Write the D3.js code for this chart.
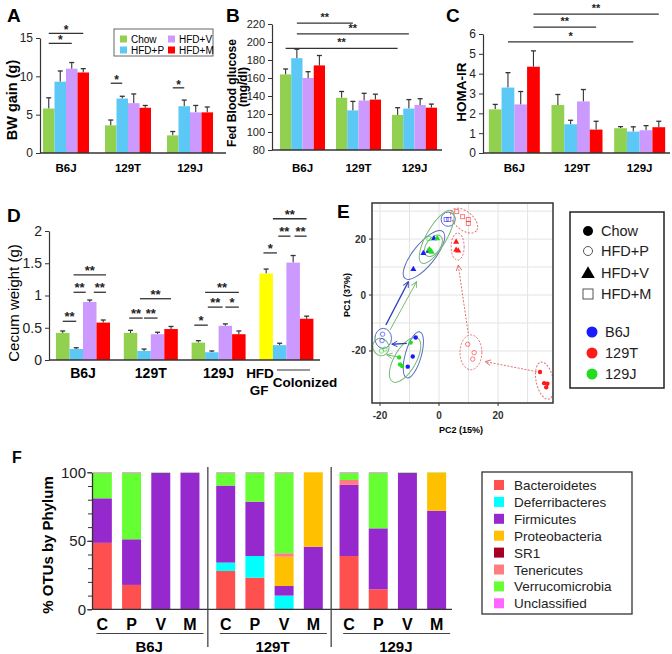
<!DOCTYPE html>
<html><head><meta charset="utf-8">
<script src="https://cdn.jsdelivr.net/npm/d3@7"></script>
<style>body{margin:0;background:#fff;} svg{display:block;font-family:"Liberation Sans",Arial,Helvetica,sans-serif;}</style>
</head><body><svg id="c" width="672" height="654"></svg>
<script>
// ---------------- DATA ----------------
const strains = ["B6J","129T","129J"];
const diets = ["Chow","HFD+P","HFD+V","HFD+M"];
const dietColors = ["#92D050","#5BC8F5","#CC99FF","#FF0000"];
const gfColor = "#FFFF00";

const bwTicks = [0,5,10,15];
const bwMean = [[5.8,9.3,11.0,10.5],[3.6,7.1,6.5,5.9],[2.3,6.1,5.3,5.3]];
const bwErr  = [[1.4,1.4,0.8,0.5],[0.7,0.3,1.2,0.3],[0.5,0.8,0.9,0.7]];
const bwSig  = [[0,0.5,0,3.5,15.6,"*"],[0,0.5,0,2.5,14.3,"*"],[1,0.5,1,1.5,9.1,"*"],[2,0.5,2,1.5,8.5,"*"]];

const gluTicks = [80,100,120,140,160,180,200,220];
const gluMean = [[164,182,160,174],[138,124,135,136],[119,126,130,127]];
const gluErr  = [[6,10,7,11],[7,10,8,6],[8,10,7,4]];
const gluSig  = [[0,1.5,1,1.5,221,"**"],[0,1.5,2,1.5,209,"**"],[0,0.5,2,0.5,193,"**"]];

const homaTicks = [0,1,2,3,4,5,6];
const homaMean = [[2.2,3.3,2.45,4.35],[2.42,1.45,2.6,1.18],[1.25,1.08,1.15,1.3]];
const homaErr  = [[0.25,0.75,0.65,0.8],[0.53,0.2,0.6,0.42],[0.08,0.24,0.23,0.3]];
const homaSig  = [[0,3.5,2,3.5,7.0,"**"],[0,3.5,1,3.5,6.35,"**"],[0,1.5,2,1.5,5.6,"*"]];

const cecumGroups = ["B6J","129T","129J","GF"];
const cecumTicks = [0,0.5,1,1.5,2];
const cecumMean = [[0.42,0.17,0.90,0.58],[0.42,0.14,0.40,0.48],[0.27,0.12,0.53,0.40],[1.34,0.23,1.51,0.64]];
const cecumErr  = [[0.03,0.02,0.03,0.04],[0.04,0.03,0.03,0.04],[0.03,0.02,0.03,0.05],[0.07,0.03,0.11,0.04]];
const cecumSig = [
  [0,0.5,0,1.5,0.60,"**"],[0,1.3,0,2.2,1.05,"**"],[0,2.8,0,3.7,1.05,"**"],[0,1.3,0,3.7,1.32,"**"],
  [1,0.4,1,1.4,0.65,"**"],[1,1.5,1,2.5,0.65,"**"],[1,1.2,1,3.5,0.95,"**"],
  [2,0.2,2,1.2,0.54,"*"],[2,1.2,2,2.3,0.82,"**"],[2,2.5,2,3.5,0.82,"*"],[2,1.0,2,3.5,1.05,"**"],
  [3,0.3,3,1.3,1.66,"*"],[3,1.4,3,2.3,1.92,"**"],[3,2.6,3,3.5,1.92,"**"],[3,1.0,3,3.5,2.19,"**"]
];

// PCA (PC2 on x, PC1 on y)
const pcaTicks = [-20,0,20];
const pcaGrid = [-20,-10,0,10,20,30];
const strainColors = ["#1A1AFF","#FF1A1A","#22DD22"];
const pcaPoints = [
  ["B6J","Chow",-7.9,-15.2],["B6J","Chow",-8.9,-22.0],["B6J","Chow",-10.6,-25.6],
  ["B6J","HFD+P",-19.1,-14.0],["B6J","HFD+P",-19.3,-16.3],
  ["B6J","HFD+V",-8.7,9.2],["B6J","HFD+V",-5.3,14.9],["B6J","HFD+V",-3.6,15.7],["B6J","HFD+V",-1.7,20.2],
  ["B6J","HFD+M",2.4,27.0],["B6J","HFD+M",3.3,27.0],
  ["129T","Chow",34.2,-27.5],["129T","Chow",35.6,-31.5],["129T","Chow",36.7,-31.7],["129T","Chow",36.3,-33.0],
  ["129T","HFD+P",9.7,-17.6],["129T","HFD+P",11.9,-20.6],["129T","HFD+P",11.4,-22.9],
  ["129T","HFD+V",5.8,19.0],["129T","HFD+V",5.8,16.1],["129T","HFD+V",6.5,15.8],
  ["129T","HFD+M",6.0,29.8],["129T","HFD+M",8.0,28.0],["129T","HFD+M",9.9,27.0],["129T","HFD+M",9.9,25.6],
  ["129J","Chow",-9.6,-17.0],["129J","Chow",-13.5,-22.3],["129J","Chow",-13.2,-24.8],["129J","Chow",-12.5,-25.4],
  ["129J","HFD+P",-19.5,-20.0],["129J","HFD+P",-18.3,-19.3],
  ["129J","HFD+V",-3.3,16.3],["129J","HFD+V",-2.8,15.7],["129J","HFD+V",-2.5,15.4],["129J","HFD+V",-0.6,20.2],
  ["129J","HFD+M",-3.4,20.2]
];
// ellipses: strain, cx, cy, rx, ry (data units), rotation (deg)
const pcaEllipses = [
  ["B6J",-5.1,14.3,10.2,3.7,-51],["B6J",3.1,27.1,2.4,2.4,0],["B6J",-18.9,-15.5,2.8,3.4,0],["B6J",-8.7,-21.4,8.1,2.7,-74],
  ["129J",-0.8,20.8,10.2,3.4,-60],["129J",-1.9,17.6,4.1,2.4,-55],["129J",-19.7,-18.6,2.7,3.0,-20],["129J",-11.5,-23.2,8.5,3.7,-60],
  ["129T",8.5,26.6,5.4,3.1,40],["129T",6.3,17.3,2.2,4.6,0],["129T",10.8,-20.5,3.7,5.9,0],["129T",35.8,-30.6,2.9,6.4,-12]
];
const pcaArrows = [
  ["B6J",-18.0,-10.7,-10.4,4.75],["129J",-16.6,-12.5,-7.6,4.75],
  ["B6J",-10.9,-17.3,-16.0,-17.6],["129J",-13.9,-22.1,-17.7,-21.4],
  ["129T",9.9,-13.7,6.5,10.7],["129T",33.1,-27.4,15.6,-23.8]
];

// Phylum composition
const samples = ["C","P","V","M"];
const phyla = ["Bacteroidetes","Deferribacteres","Firmicutes","Proteobacteria","SR1","Tenericutes","Verrucomicrobia","Unclassified"];
const phylaColors = ["#FF5050","#00FFFF","#9629CD","#FFC000","#A50021","#FF7C80","#66FF33","#FF66FF"];
const otuTicks = [0,50,100];
const bacteroidetes   = [48.5,17.8,0,0,   28,23.1,0,0,     38.9,14.6,0,0];
const deferribacteres = [0,0,0,0,         6.1,15.8,10,0,   0,0,0,0];
const firmicutes      = [32.5,33.3,99.5,99.7, 56.2,39.7,7,45.7, 51.9,44.5,99.5,72];
const proteobacteria  = [0,0,0,0,         0,0,21.4,54.3,   0,0,0,27.8];
const sr1             = [0,0,0,0,         0,0,0,0,         0,0,0,0];
const tenericutes     = [0,0,0,0,         0,0,2.5,0,       3.6,0,0,0];
const verrucomicrobia = [18.5,48.4,0.4,0.2, 9.2,20.9,58.6,0, 5.1,40.4,0.4,0.2];
const unclassified    = [0.5,0.5,0.1,0.1, 0.5,0.5,0.5,0,   0.5,0.5,0.1,0];

// ---------------- DRAW ----------------
const svg = d3.select("#c");
const AX = "#333";

function panelLetter(t,x,y,fs){
  svg.append("text").attr("x",x).attr("y",y).attr("font-size",fs||19).attr("font-weight","bold").text(t);
}
function vTitle(t,x,y,fs,bold,len){
  const el=svg.append("text").attr("transform",`translate(${x},${y}) rotate(-90)`).attr("text-anchor","middle")
    .attr("font-size",fs).attr("font-weight",bold?"bold":"normal").text(t);
  if(len) el.attr("textLength",len).attr("lengthAdjust","spacingAndGlyphs");
}

function barPanel(o){
  const g = svg.append("g");
  const y = d3.scaleLinear().domain(o.yDomain).range([o.yBottom,o.yTop]);
  const xg = d3.scaleBand().domain(o.groups).range(o.groupRange);
  const step = xg.bandwidth();
  const xd = d3.scaleBand().domain(diets).range([(step-4*o.barW)/2,(step+4*o.barW)/2]);
  const bw = xd.bandwidth();
  o.groups.forEach((grp,gi)=>{
    diets.forEach((dt,di)=>{
      const v=o.means[gi][di], e=o.errs[gi][di];
      const x=xg(grp)+xd(dt), cx=x+bw/2;
      g.append("line").attr("x1",cx).attr("x2",cx).attr("y1",y(v)).attr("y2",y(v+e)).attr("stroke","#333").attr("stroke-width",1.1);
      g.append("line").attr("x1",cx-2.5).attr("x2",cx+2.5).attr("y1",y(v+e)).attr("y2",y(v+e)).attr("stroke","#333").attr("stroke-width",1.3);
      g.append("rect").attr("x",x).attr("y",y(v)).attr("width",bw).attr("height",y(o.yDomain[0])-y(v)).attr("fill",o.color(gi,di));
    });
    if(o.labels!==false){
      g.append("text").attr("x",xg(grp)+step/2).attr("y",o.labelY).attr("text-anchor","middle")
        .attr("font-size",o.labelFs).attr("font-weight","bold").text(grp);
    }
  });
  const ax = d3.axisLeft(y).tickValues(o.ticks).tickSize(4).tickSizeOuter(0).tickPadding(3).tickFormat(o.fmt||(d=>d));
  const ag = g.append("g").attr("transform",`translate(${o.axisX},0)`).call(ax);
  ag.select(".domain").attr("stroke",AX).attr("stroke-width",1.2);
  ag.selectAll(".tick line").attr("stroke",AX);
  ag.selectAll("text").attr("font-size",o.tickFs).attr("fill","#222").attr("font-family","Liberation Sans, Arial, sans-serif");
  g.append("line").attr("x1",o.axisX).attr("x2",o.axisEnd).attr("y1",y(o.yDomain[0])).attr("y2",y(o.yDomain[0])).attr("stroke",AX).attr("stroke-width",1.3);
  const left = gi=> xg(o.groups[gi])+xd.range()[0];
  o.sig.forEach(s=>{
    const x1=left(s[0])+s[1]*bw, x2=left(s[2])+s[3]*bw, yy=y(s[4]);
    g.append("line").attr("x1",x1).attr("x2",x2).attr("y1",yy).attr("y2",yy).attr("stroke","#333").attr("stroke-width",1.3);
    g.append("text").attr("x",(x1+x2)/2).attr("y",yy+o.starDy).attr("text-anchor","middle")
      .attr("font-size",o.starFs).attr("font-weight","bold").attr("fill","#222").text(s[5]);
  });
  return {y,xg,xd};
}

// ---- A ----
panelLetter("A",7,22);
barPanel({groups:strains,means:bwMean,errs:bwErr,color:(g,d)=>dietColors[d],
  yDomain:[0,15],yBottom:153,yTop:38,ticks:bwTicks,groupRange:[35,221],barW:11.5,
  axisX:40,axisEnd:226,labelY:172,labelFs:11.5,tickFs:12,sig:bwSig,starDy:1,starFs:12});
vTitle("BW gain (g)",17,100,14.5,true);
// legend A
const lgA = svg.append("g");
lgA.append("rect").attr("x",114).attr("y",29).attr("width",99).attr("height",27).attr("fill","#fff").attr("stroke","#666").attr("stroke-width",1);
const lgPos=[[120,39],[120,50],[168,39],[168,50]];
diets.forEach((d,i)=>{
  const [cx,cy]=lgPos[i];
  lgA.append("rect").attr("x",cx).attr("y",cy-3.5).attr("width",7).attr("height",7).attr("fill",dietColors[i]);
  lgA.append("text").attr("x",cx+11).attr("y",cy+3.6).attr("font-size",10).text(d);
});

// ---- B ----
panelLetter("B",226,22);
barPanel({groups:strains,means:gluMean,errs:gluErr,color:(g,d)=>dietColors[d],
  yDomain:[80,220],yBottom:150,yTop:24,ticks:gluTicks,groupRange:[274.5,442.5],barW:11.25,
  axisX:272,axisEnd:442,labelY:172,labelFs:11.5,tickFs:11,sig:gluSig,starDy:-2,starFs:11});
vTitle("Fed Blood glucose",236,93,12.5,true,108);
vTitle("(mg/dl)",247,87,12.5,true,40);

// ---- C ----
panelLetter("C",446,22);
barPanel({groups:strains,means:homaMean,errs:homaErr,color:(g,d)=>dietColors[d],
  yDomain:[0,6],yBottom:153,yTop:34,ticks:homaTicks,groupRange:[483,671],barW:12.75,
  axisX:483,axisEnd:670,labelY:172,labelFs:11.5,tickFs:12,sig:homaSig,starDy:-2,starFs:11});
vTitle("HOMA-IR",466,92,13.5,true);

// ---- D ----
panelLetter("D",7,222);
barPanel({groups:cecumGroups,means:cecumMean,errs:cecumErr,color:(g,d)=>(g===3&&d===0)?gfColor:dietColors[d],
  yDomain:[0,2],yBottom:360,yTop:231,ticks:cecumTicks,groupRange:[49.1,320.3],barW:13.5,
  axisX:49,axisEnd:320,labels:false,tickFs:14,sig:cecumSig,starDy:0,starFs:13,fmt:d=>d});
{
  const xs=[83,150.8,218.6];
  strains.forEach((s,i)=>svg.append("text").attr("x",xs[i]).attr("y",378).attr("text-anchor","middle").attr("font-size",14).attr("font-weight","bold").text(s));
  svg.append("text").attr("x",260).attr("y",378).attr("text-anchor","middle").attr("font-size",13.5).attr("font-weight","bold").text("HFD");
  svg.append("text").attr("x",259).attr("y",395).attr("text-anchor","middle").attr("font-size",13.5).attr("font-weight","bold").text("GF");
  svg.append("text").attr("x",305).attr("y",387).attr("text-anchor","middle").attr("font-size",13.5).attr("font-weight","bold").text("Colonized");
  svg.append("line").attr("x1",277).attr("x2",310).attr("y1",370).attr("y2",370).attr("stroke","#333").attr("stroke-width",1.2);
  vTitle("Cecum weight (g)",19,303,15,false);
}

// ---- E ----
panelLetter("E",337,218);
{
  const ex=d3.scaleLinear().domain([-22.7,38.6]).range([372,553]);
  const ey=d3.scaleLinear().domain([-38.6,32.9]).range([403,203]);
  const g=svg.append("g");
  g.append("clipPath").attr("id","eclip").append("rect").attr("x",372).attr("y",203).attr("width",181).attr("height",200);
  pcaGrid.forEach(v=>{
    g.append("line").attr("x1",ex(v)).attr("x2",ex(v)).attr("y1",203).attr("y2",403).attr("stroke","#E3E3E3").attr("stroke-width",1);
    if(v<=30) g.append("line").attr("x1",372).attr("x2",553).attr("y1",ey(v)).attr("y2",ey(v)).attr("stroke","#E3E3E3").attr("stroke-width",1);
  });
  const defs=svg.append("defs");
  const arrCol={"B6J":"#3040C0","129T":"#E07070","129J":"#78B878"};
  strains.forEach((s,i)=>{
    defs.append("marker").attr("id","arr"+i).attr("viewBox","0 0 10 10").attr("refX",9).attr("refY",5)
      .attr("markerWidth",7).attr("markerHeight",7).attr("markerUnits","userSpaceOnUse").attr("orient","auto")
      .append("path").attr("d","M1,1 L9,5 L1,9").attr("fill","none").attr("stroke",arrCol[s]).attr("stroke-width",1.3);
  });
  const cg=g.append("g").attr("clip-path","url(#eclip)");
  const ellCol={"B6J":"#5A6FC0","129T":"#E07070","129J":"#78B878"};
  pcaEllipses.forEach(e=>{
    cg.append("ellipse").attr("transform",`translate(${ex(e[1])},${ey(e[2])}) rotate(${e[5]})`)
      .attr("rx",ex(e[3])-ex(0)).attr("ry",ex(e[4])-ex(0)).attr("fill","none").attr("stroke",ellCol[e[0]])
      .attr("stroke-width",1).attr("stroke-dasharray",e[0]==="129T"?"2,1.5":null);
  });
  pcaArrows.forEach(a=>{
    const si=strains.indexOf(a[0]);
    cg.append("line").attr("x1",ex(a[1])).attr("y1",ey(a[2])).attr("x2",ex(a[3])).attr("y2",ey(a[4]))
      .attr("stroke",arrCol[a[0]]).attr("stroke-width",a[0]==="B6J"?1.4:1).attr("stroke-dasharray",a[0]==="129T"?"2,1.5":null)
      .attr("marker-end",`url(#arr${si})`);
  });
  pcaPoints.forEach(p=>{
    const c=strainColors[strains.indexOf(p[0])], x=ex(p[2]), y=ey(p[3]);
    if(p[1]==="Chow") cg.append("circle").attr("cx",x).attr("cy",y).attr("r",2.2).attr("fill",c);
    else if(p[1]==="HFD+P") cg.append("circle").attr("cx",x).attr("cy",y).attr("r",2.2).attr("fill","none").attr("stroke",c).attr("stroke-width",0.8).attr("stroke-opacity",0.7);
    else if(p[1]==="HFD+V") cg.append("path").attr("transform",`translate(${x},${y})`).attr("d",d3.symbol(d3.symbolTriangle,16)()).attr("fill",c);
    else cg.append("rect").attr("x",x-2).attr("y",y-2).attr("width",4).attr("height",4).attr("fill","none").attr("stroke",c).attr("stroke-width",0.8).attr("stroke-opacity",0.7);
  });
  g.append("rect").attr("x",372).attr("y",203).attr("width",181).attr("height",200).attr("fill","none").attr("stroke","#333").attr("stroke-width",1.5);
  pcaTicks.forEach(v=>{
    g.append("line").attr("x1",ex(v)).attr("x2",ex(v)).attr("y1",403).attr("y2",406).attr("stroke","#333");
    g.append("text").attr("x",ex(v)).attr("y",419).attr("text-anchor","middle").attr("font-size",10).attr("font-weight","bold").attr("fill","#333").text(v);
    g.append("line").attr("x1",369).attr("x2",372).attr("y1",ey(v)).attr("y2",ey(v)).attr("stroke","#333");
    g.append("text").attr("x",366).attr("y",ey(v)+3.5).attr("text-anchor","end").attr("font-size",10).attr("font-weight","bold").attr("fill","#333").text(v);
  });
  g.append("text").attr("x",461).attr("y",433).attr("text-anchor","middle").attr("font-size",9).attr("font-weight","bold").text("PC2 (15%)");
  g.append("text").attr("transform","translate(350,295) rotate(-90)").attr("text-anchor","middle").attr("font-size",9).attr("font-weight","bold").text("PC1 (37%)");
  // legend E
  const lg=svg.append("g");
  lg.append("rect").attr("x",570).attr("y",212).attr("width",94).attr("height",176).attr("fill","#fff").attr("stroke","#222").attr("stroke-width",1.5);
  const ly=[231,251,273,294];
  diets.forEach((d,i)=>{
    if(i===0) lg.append("circle").attr("cx",588).attr("cy",ly[i]).attr("r",5).attr("fill","#000");
    if(i===1) lg.append("circle").attr("cx",588).attr("cy",ly[i]).attr("r",4.5).attr("fill","none").attr("stroke","#555").attr("stroke-width",1);
    if(i===2) lg.append("path").attr("transform",`translate(588,${ly[i]+1})`).attr("d",d3.symbol(d3.symbolTriangle,80)()).attr("fill","#000");
    if(i===3) lg.append("rect").attr("x",583).attr("y",ly[i]-5).attr("width",10).attr("height",10).attr("fill","none").attr("stroke","#555").attr("stroke-width",1);
    lg.append("text").attr("x",601).attr("y",ly[i]+5).attr("font-size",14.5).attr("fill","#222").text(d);
  });
  const cy=[332,353,374];
  strains.forEach((s,i)=>{
    lg.append("circle").attr("cx",592).attr("cy",cy[i]).attr("r",5.5).attr("fill",strainColors[i]);
    lg.append("text").attr("x",605).attr("y",cy[i]+5).attr("font-size",14.5).attr("fill","#222").text(s);
  });
}

// ---- F ----
panelLetter("F",12,463,16);
{
  const g=svg.append("g");
  const yF=d3.scaleLinear().domain([0,100]).range([609.3,472.3]);
  const xo=d3.scaleBand().domain(strains).range([84.5,454.5]);
  const xi=d3.scaleBand().domain(samples).range([3.27,120.07]).paddingInner(0.35).paddingOuter(0.175);
  const cols=[bacteroidetes,deferribacteres,firmicutes,proteobacteria,sr1,tenericutes,verrucomicrobia,unclassified];
  const rows=[];
  strains.forEach((s,si)=>samples.forEach((sm,k)=>{
    const r={strain:s,sample:sm};
    phyla.forEach((p,pi)=>r[p]=cols[pi][si*4+k]);
    rows.push(r);
  }));
  const st=d3.stack().keys(phyla)(rows);
  st.forEach((layer,li)=>{
    layer.forEach(d=>{
      if(d[1]-d[0]<=0) return;
      g.append("rect").attr("x",xo(d.data.strain)+xi(d.data.sample)).attr("width",xi.bandwidth())
        .attr("y",yF(d[1])).attr("height",yF(d[0])-yF(d[1])).attr("fill",phylaColors[li]);
    });
  });
  const minor=d3.axisLeft(yF).tickValues(d3.range(0,101,10)).tickSize(4).tickFormat("");
  const mg=g.append("g").attr("transform","translate(92,0)").call(minor);
  mg.select(".domain").remove(); mg.selectAll("line").attr("stroke",AX);
  const ax=d3.axisLeft(yF).tickValues(otuTicks).tickSize(5).tickSizeOuter(0).tickPadding(1);
  const ag=g.append("g").attr("transform","translate(92,0)").call(ax);
  ag.select(".domain").attr("stroke",AX).attr("stroke-width",1.3);
  ag.selectAll(".tick line").attr("stroke",AX);
  ag.selectAll("text").attr("font-size",15).attr("fill","#222").attr("font-family","Liberation Sans, Arial, sans-serif");
  g.append("line").attr("x1",92).attr("x2",452).attr("y1",yF(0)).attr("y2",yF(0)).attr("stroke",AX).attr("stroke-width",1.3);
  strains.forEach((s,si)=>{
    if(si>0) g.append("line").attr("x1",xo(s)).attr("x2",xo(s)).attr("y1",467).attr("y2",647).attr("stroke","#444").attr("stroke-width",1.3);
    samples.forEach(sm=>g.append("text").attr("x",xo(s)+xi(sm)+xi.bandwidth()/2).attr("y",630).attr("text-anchor","middle")
      .attr("font-size",16).attr("font-weight","bold").text(sm));
    g.append("line").attr("x1",xo(s)+12).attr("x2",xo(s)+119).attr("y1",633.5).attr("y2",633.5).attr("stroke","#444").attr("stroke-width",1.2);
    g.append("text").attr("x",xo(s)+xo.bandwidth()/2+3).attr("y",652).attr("text-anchor","middle").attr("font-size",15).attr("font-weight","bold").text(s);
  });
  vTitle("% OTUs by Phylum",53,545,15,true);
  // legend F
  const lg=svg.append("g");
  lg.append("rect").attr("x",482).attr("y",472).attr("width",150).attr("height",142).attr("fill","#fff").attr("stroke","#333").attr("stroke-width",1.3);
  phyla.forEach((p,i)=>{
    const yy=485+i*16.9;
    lg.append("rect").attr("x",494).attr("y",yy-5).attr("width",10).attr("height",10).attr("fill",phylaColors[i]);
    lg.append("text").attr("x",514).attr("y",yy+5).attr("font-size",13.5).attr("fill","#222").text(p);
  });
}
</script></body></html>
